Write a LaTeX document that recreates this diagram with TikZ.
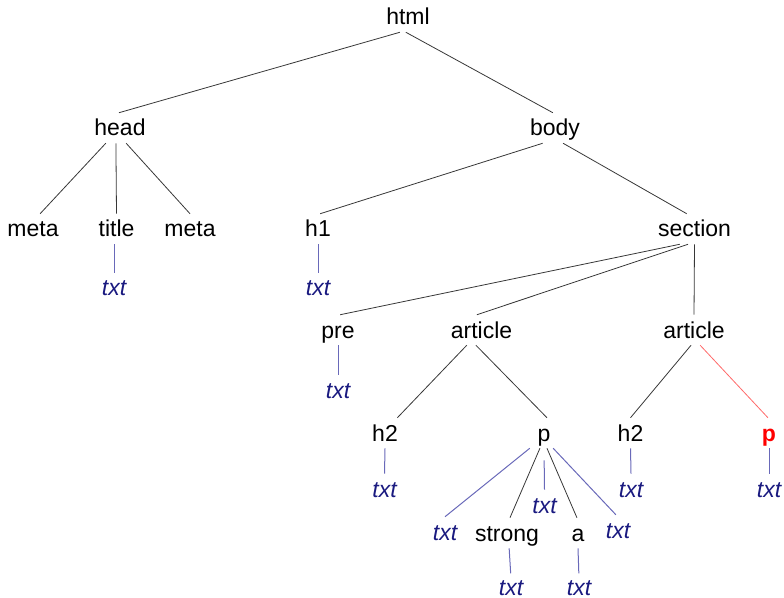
\documentclass[tikz,border=0pt]{standalone}
\usepackage{fontspec}
\setmainfont{Liberation Sans}
\usepackage{tikz}

\definecolor{txtblue}{RGB}{26,26,128}
\definecolor{linkblue}{RGB}{105,105,185}
\definecolor{edgegray}{RGB}{55,55,55}
\definecolor{hlred}{RGB}{255,105,105}

\begin{document}
\begin{tikzpicture}[x=0.75pt,y=0.75pt,yscale=-1,xscale=1,
  tag/.style={inner xsep=2pt,inner ysep=5.25pt,text height=12pt,text depth=0pt,minimum width=30pt,font=\fontsize{17.25pt}{20pt}\selectfont},
  txt/.style={tag,text=txtblue,font=\fontsize{17.25pt}{20pt}\selectfont\itshape},
  lowtxt/.style={txt,inner ysep=0pt},
  edge/.style={draw=edgegray,line width=0.6pt},
  tedge/.style={draw=linkblue,line width=0.75pt},
  hedge/.style={draw=hlred,line width=0.6pt}]
\useasboundingbox (0,0) rectangle (784,598);

% Text Node
\draw (408,17) node [tag] (html) {html};
% Text Node
\draw (120,128) node [tag] (head) {head};
% Text Node
\draw (555,128) node [tag] (body) {body};
% Text Node
\draw (33,229) node [tag] (meta1) {meta};
% Text Node
\draw (116.5,229) node [tag] (title) {title};
% Text Node
\draw (190,229) node [tag] (meta2) {meta};
% Text Node
\draw (318,229) node [tag] (hone) {h1};
% Text Node
\draw (694.5,229) node [tag] (section) {section};
% Text Node
\draw (114,288) node [txt] (txtTitle) {txt};
% Text Node
\draw (318,288) node [txt] (txtHone) {txt};
% Text Node
\draw (338,330) node [tag] (pre) {pre};
% Text Node
\draw (481.5,330) node [tag] (articleA) {article};
% Text Node
\draw (694,330) node [tag] (articleB) {article};
% Text Node
\draw (338,390) node [txt] (txtPre) {txt};
% Text Node
\draw (385,433) node [tag] (htwoA) {h2};
% Text Node
\draw (544,433) node [tag] (pA) {p};
% Text Node
\draw (630.5,433) node [tag] (htwoB) {h2};
% Text Node
\draw (769,433) node [tag,text=red] (pB) {\bfseries p};
% Text Node
\draw (384.5,489) node [txt] (txtHtwoA) {txt};
% Text Node
\draw (631,489) node [txt] (txtHtwoB) {txt};
% Text Node
\draw (769,489) node [txt] (txtPB) {txt};
% Text Node
\draw (544.5,505) node [txt] (txtMid) {txt};
% Text Node
\draw (445,532) node [txt] (txtLeft) {txt};
% Text Node
\draw (507,533) node [tag] (strong) {strong};
% Text Node
\draw (578,533) node [tag] (a) {a};
% Text Node
\draw (618,530) node [txt] (txtRight) {txt};
% Text Node
\draw (511,587) node [lowtxt] (txtStrong) {txt};
% Text Node
\draw (579,587) node [lowtxt] (txtA) {txt};

% Connection
\draw [edge] (html.-118) -- (head.94);
% Connection
\draw [edge] (html.-98) -- (body.98);
% Connection
\draw [edge] (head.-133) -- (meta1.65);
% Connection
\draw [edge] (head.-105) -- (title.north);
% Connection
\draw [edge] (head.-68) -- (meta2.north);
% Connection
\draw [tedge] (txtTitle.north |- title.south) -- (txtTitle.north);
% Connection
\draw [edge] (body.-129) -- (hone.82);
% Connection
\draw [edge] (body.-62) -- (section.117);
% Connection
\draw [tedge] (hone.south) -- (txtHone.north);
% Connection
\draw [edge] (section.-134) -- (pre.82);
% Connection
\draw [edge] (section.-113) -- (articleA.107);
% Connection
\draw [edge] (section.south) -- (articleB.north);
% Connection
\draw [tedge] (pre.south) -- (txtPre.north);
% Connection
\draw [edge] (articleA.-134) -- (htwoA.51);
% Connection
\draw [edge] (articleA.-110) -- (pA.79);
% Connection
\draw [tedge] (htwoA.south) -- (txtHtwoA.north);
% Connection
\draw [tedge] (pA.-133) -- (txtLeft.north);
% Connection
\draw [edge] (pA.-105) -- (strong.79);
% Connection
\draw [tedge,shorten <=9pt] (pA.south) -- (txtMid.north);
% Connection
\draw [edge] (pA.-79) -- (a.94);
% Connection
\draw [tedge] (pA.-59) -- (txtRight.98);
% Connection
\draw [tedge,shorten >=4pt] (strong.-82) -- (txtStrong.north);
% Connection
\draw [tedge,shorten >=4pt] (a.south) -- (txtA.north);
% Connection
\draw [edge] (articleB.-101) -- (htwoB.north);
% Connection
\draw [hedge] (articleB.-68) -- (pB.94);
% Connection
\draw [tedge] (htwoB.south) -- (txtHtwoB.north);
% Connection
\draw [tedge] (pB.south) -- (txtPB.north);

\end{tikzpicture}
\end{document}
